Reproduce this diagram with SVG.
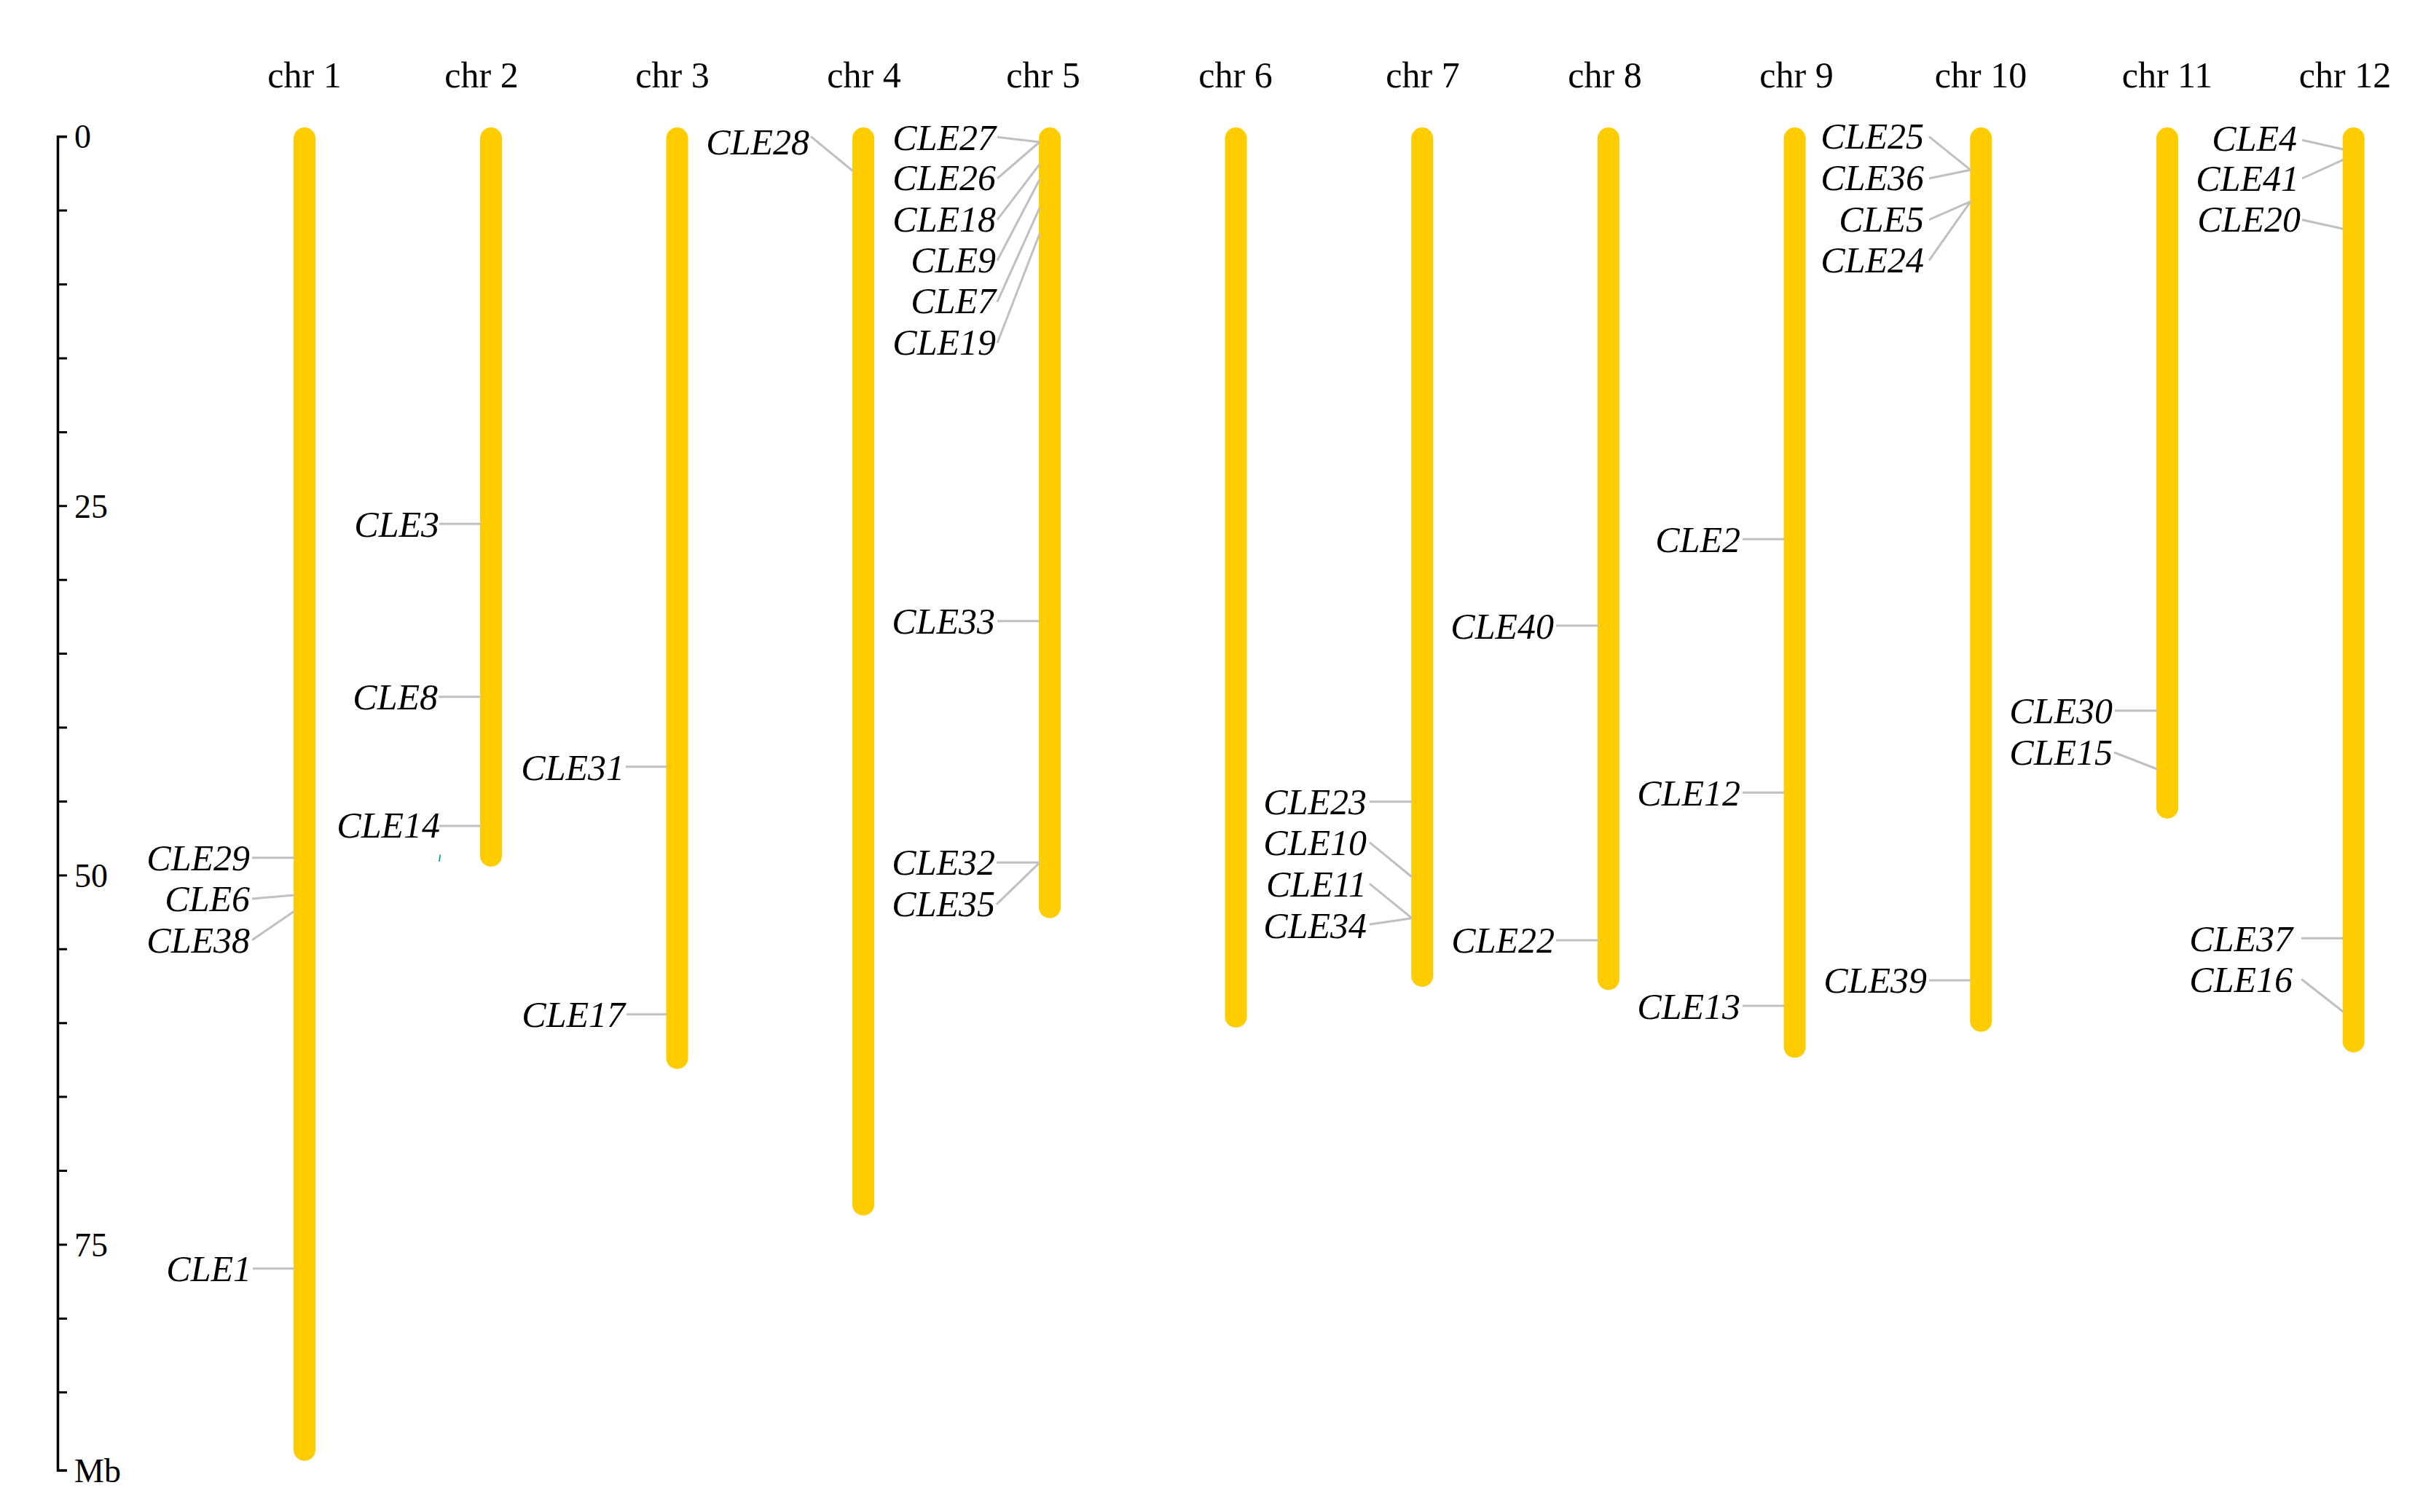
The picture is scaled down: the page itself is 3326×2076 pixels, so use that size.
<svg xmlns="http://www.w3.org/2000/svg" width="3326" height="2076" viewBox="0 0 3326 2076">
<style>
.bar{fill:#ffcc00}
.chr{font-family:"Liberation Serif","Times New Roman",serif;font-size:50px;fill:#000;text-anchor:middle}
.ax{font-family:"Liberation Serif","Times New Roman",serif;font-size:46px;fill:#000}
.g text{font-family:"Liberation Serif","Times New Roman",serif;font-size:50px;font-style:italic;fill:#000;text-anchor:end}
#connectors line{stroke:#c0c0c0;stroke-width:3;fill:none}
</style>
<rect width="3326" height="2076" fill="#fff"/>
<g id="axis">
<path d="M92,187.7 H79.5 V2019 H92" fill="none" stroke="#000" stroke-width="3.5"/>
<path d="M79.5,289.1H92M79.5,390.5H92M79.5,492H92M79.5,593.4H92M79.5,694.8H92M79.5,796.2H92M79.5,897.6H92M79.5,999H92M79.5,1100.5H92M79.5,1201.9H92M79.5,1303.3H92M79.5,1404.7H92M79.5,1506.1H92M79.5,1607.5H92M79.5,1709H92M79.5,1810.4H92M79.5,1911.8H92" fill="none" stroke="#000" stroke-width="3"/>
<text class="ax" x="102" y="203">0</text>
<text class="ax" x="102" y="710.5">25</text>
<text class="ax" x="102" y="1218">50</text>
<text class="ax" x="102" y="1725">75</text>
<text class="ax" x="102" y="2035">Mb</text>
</g>
<g id="chr1"><rect class="bar" x="403" y="175" width="30" height="1830.7" rx="15"/><text class="chr" x="418" y="120">chr 1</text></g>
<g id="chr2"><rect class="bar" x="659" y="175" width="30" height="1015" rx="15"/><text class="chr" x="661" y="120">chr 2</text></g>
<g id="chr3"><rect class="bar" x="914.5" y="175" width="30" height="1292.7" rx="15"/><text class="chr" x="923" y="120">chr 3</text></g>
<g id="chr4"><rect class="bar" x="1170" y="175" width="30" height="1494" rx="15"/><text class="chr" x="1186" y="120">chr 4</text></g>
<g id="chr5"><rect class="bar" x="1426" y="175" width="30" height="1085.7" rx="15"/><text class="chr" x="1432" y="120">chr 5</text></g>
<g id="chr6"><rect class="bar" x="1681.5" y="175" width="30" height="1236" rx="15"/><text class="chr" x="1696" y="120">chr 6</text></g>
<g id="chr7"><rect class="bar" x="1937.2" y="175" width="30" height="1180" rx="15"/><text class="chr" x="1953" y="120">chr 7</text></g>
<g id="chr8"><rect class="bar" x="2192.9" y="175" width="30" height="1184.3" rx="15"/><text class="chr" x="2203" y="120">chr 8</text></g>
<g id="chr9"><rect class="bar" x="2448.6" y="175" width="30" height="1277.3" rx="15"/><text class="chr" x="2466" y="120">chr 9</text></g>
<g id="chr10"><rect class="bar" x="2704.3" y="175" width="30" height="1241.7" rx="15"/><text class="chr" x="2719" y="120">chr 10</text></g>
<g id="chr11"><rect class="bar" x="2960" y="175" width="30" height="949" rx="15"/><text class="chr" x="2975" y="120">chr 11</text></g>
<g id="chr12"><rect class="bar" x="3215.7" y="175" width="30" height="1270" rx="15"/><text class="chr" x="3219" y="120">chr 12</text></g>
<g id="connectors">
<line x1="346" y1="1177.7" x2="404" y2="1177.7"/>
<line x1="346" y1="1234" x2="404" y2="1229"/>
<line x1="346" y1="1290.7" x2="404" y2="1251"/>
<line x1="347" y1="1741.7" x2="404" y2="1741.7"/>
<line x1="603" y1="719.3" x2="660" y2="719.3"/>
<line x1="602" y1="956.7" x2="660" y2="956.7"/>
<line x1="603" y1="1134" x2="660" y2="1134"/>
<line x1="859" y1="1052.7" x2="915" y2="1052.7"/>
<line x1="860" y1="1392.7" x2="915" y2="1392.7"/>
<line x1="1113" y1="187.3" x2="1171" y2="235"/>
<line x1="1369" y1="188.3" x2="1427" y2="195"/>
<line x1="1369" y1="245" x2="1427" y2="195"/>
<line x1="1369" y1="301.7" x2="1427" y2="225.7"/>
<line x1="1369" y1="357.7" x2="1427" y2="246.7"/>
<line x1="1369" y1="414.3" x2="1427" y2="285.7"/>
<line x1="1369" y1="471" x2="1427" y2="321"/>
<line x1="1369" y1="852.7" x2="1427" y2="852.7"/>
<line x1="1368" y1="1184.3" x2="1427" y2="1184.3"/>
<line x1="1368" y1="1241.7" x2="1427" y2="1184.3"/>
<line x1="1880" y1="1100.7" x2="1938" y2="1100.7"/>
<line x1="1880" y1="1156.7" x2="1938" y2="1204"/>
<line x1="1880" y1="1213.3" x2="1938" y2="1260.7"/>
<line x1="1880" y1="1269.3" x2="1938" y2="1260.7"/>
<line x1="2136" y1="859" x2="2194" y2="859"/>
<line x1="2136" y1="1291" x2="2194" y2="1291"/>
<line x1="2392" y1="740.3" x2="2449" y2="740.3"/>
<line x1="2392" y1="1088.2" x2="2449" y2="1088.2"/>
<line x1="2392" y1="1381" x2="2449" y2="1381"/>
<line x1="2648" y1="187.7" x2="2705" y2="233.3"/>
<line x1="2648" y1="245" x2="2705" y2="233.3"/>
<line x1="2648" y1="301.7" x2="2705" y2="276.7"/>
<line x1="2648" y1="357.7" x2="2705" y2="276.7"/>
<line x1="2648" y1="1346" x2="2705" y2="1346"/>
<line x1="2903" y1="975.8" x2="2961" y2="975.8"/>
<line x1="2902" y1="1033" x2="2961" y2="1056"/>
<line x1="3160" y1="192.3" x2="3216.5" y2="205"/>
<line x1="3160" y1="245" x2="3216.5" y2="219.3"/>
<line x1="3160" y1="301.7" x2="3216.5" y2="314.3"/>
<line x1="3159" y1="1288.3" x2="3216.5" y2="1288.3"/>
<line x1="3159" y1="1344.3" x2="3216.5" y2="1389.3"/>
</g>
<line x1="604.5" y1="1173.5" x2="602.8" y2="1183" stroke="#0097a7" stroke-width="1.6"/>
<g class="g">
<g id="CLE29"><text x="343" y="1195">CLE29</text></g>
<g id="CLE6"><text x="343" y="1251">CLE6</text></g>
<g id="CLE38"><text x="343" y="1307.7">CLE38</text></g>
<g id="CLE1"><text x="345" y="1759">CLE1</text></g>
<g id="CLE3"><text x="603" y="737.3">CLE3</text></g>
<g id="CLE8"><text x="601" y="974">CLE8</text></g>
<g id="CLE14"><text x="604" y="1150">CLE14</text></g>
<g id="CLE31"><text x="857" y="1070.7">CLE31</text></g>
<g id="CLE17"><text x="858" y="1410">CLE17</text></g>
<g id="CLE28"><text x="1111" y="211.7">CLE28</text></g>
<g id="CLE27"><text x="1367" y="205.7">CLE27</text></g>
<g id="CLE26"><text x="1367" y="261">CLE26</text></g>
<g id="CLE18"><text x="1367" y="317.7">CLE18</text></g>
<g id="CLE9"><text x="1367" y="374.3">CLE9</text></g>
<g id="CLE7"><text x="1367" y="430">CLE7</text></g>
<g id="CLE19"><text x="1367" y="486.7">CLE19</text></g>
<g id="CLE33"><text x="1366" y="870">CLE33</text></g>
<g id="CLE32"><text x="1366" y="1201">CLE32</text></g>
<g id="CLE35"><text x="1366" y="1257.7">CLE35</text></g>
<g id="CLE23"><text x="1876" y="1117.7">CLE23</text></g>
<g id="CLE10"><text x="1876" y="1174.3">CLE10</text></g>
<g id="CLE11"><text x="1876" y="1231">CLE11</text></g>
<g id="CLE34"><text x="1876" y="1287.7">CLE34</text></g>
<g id="CLE40"><text x="2133" y="876.5">CLE40</text></g>
<g id="CLE22"><text x="2134" y="1308.3">CLE22</text></g>
<g id="CLE2"><text x="2389" y="757.8">CLE2</text></g>
<g id="CLE12"><text x="2389" y="1105.7">CLE12</text></g>
<g id="CLE13"><text x="2389" y="1398.5">CLE13</text></g>
<g id="CLE25"><text x="2641" y="204">CLE25</text></g>
<g id="CLE36"><text x="2641" y="261">CLE36</text></g>
<g id="CLE5"><text x="2641" y="317.7">CLE5</text></g>
<g id="CLE24"><text x="2641" y="374.3">CLE24</text></g>
<g id="CLE39"><text x="2645" y="1363.3">CLE39</text></g>
<g id="CLE30"><text x="2900" y="993">CLE30</text></g>
<g id="CLE15"><text x="2900" y="1050">CLE15</text></g>
<g id="CLE4"><text x="3153" y="206.7">CLE4</text></g>
<g id="CLE41"><text x="3156" y="261.7">CLE41</text></g>
<g id="CLE20"><text x="3158" y="317.7">CLE20</text></g>
<g id="CLE37"><text x="3147" y="1306">CLE37</text></g>
<g id="CLE16"><text x="3147" y="1362.3">CLE16</text></g>
</g>
</svg>
